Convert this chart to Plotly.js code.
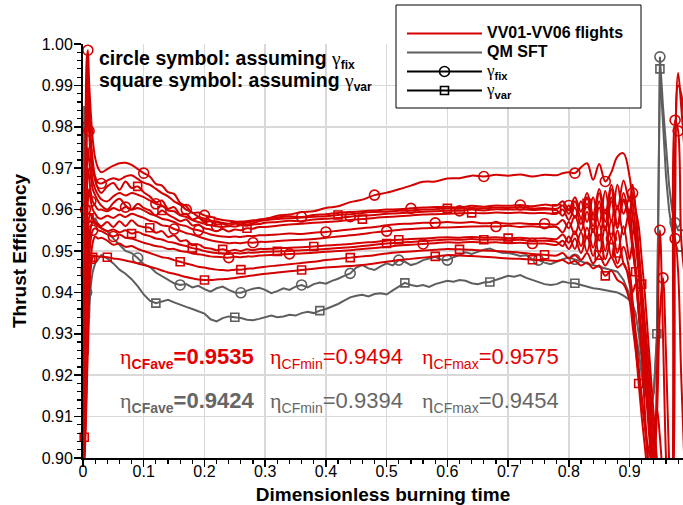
<!DOCTYPE html>
<html><head><meta charset="utf-8">
<script src="https://cdn.plot.ly/plotly-3.0.1.min.js"></script>
<style>html,body{margin:0;padding:0;background:#fff}</style>
</head><body><div id="chart" style="width:683px;height:505px"></div>
<script>
// ---------- x grids ----------
const xRed = [0,0.002,0.004,0.006,0.008,0.010,0.013,0.016,0.020,0.025,
0.03,0.04,0.05,0.06,0.07,0.08,0.09,0.10,0.11,0.12,0.13,0.14,0.15,0.16,0.17,0.18,0.19,0.20,0.21,0.22,0.23,0.24,0.25,0.26,0.27,0.28,0.29,0.30,
0.32,0.34,0.36,0.38,0.40,0.42,0.44,0.46,0.48,0.50,0.52,0.54,0.56,0.58,0.60,0.62,0.64,0.66,0.68,0.70,0.72,0.74,0.76,0.78,
0.79,0.80,0.81,0.82,0.83,0.84,0.85,0.86,0.87,0.88,0.89,
0.90,0.905,0.91,0.915,0.92,0.925,0.93,0.935,0.94,0.945,0.95,0.955,0.96,0.965,0.97,0.975,0.98,0.985,0.99];

const xGrey = [0,0.002,0.004,0.006,0.008,0.010,0.013,0.016,0.020,0.025,
0.03,0.04,0.05,0.06,0.07,0.08,0.09,0.10,0.11,0.12,0.13,0.14,0.15,0.16,0.17,0.18,0.19,0.20,0.21,0.22,
0.23,0.24,0.25,0.26,0.27,0.28,0.29,0.30,0.31,0.32,0.33,0.34,0.35,0.36,0.37,0.38,0.39,0.40,0.41,0.42,
0.43,0.44,0.45,0.46,0.47,0.48,0.49,0.50,0.51,0.52,0.53,0.54,0.55,0.56,0.57,0.58,0.59,0.60,0.61,0.62,
0.63,0.64,0.65,0.66,0.67,0.68,0.69,0.70,0.71,0.72,0.73,0.74,0.75,0.76,0.77,0.78,0.79,0.80,0.81,0.82,
0.83,0.84,0.85,0.86,0.87,0.88,0.89,0.90,
0.905,0.91,0.915,0.92,0.925,0.93,0.935,0.94,0.945,0.95,0.955,0.96,0.965,0.97,0.975,0.98,0.985,0.99];

// ---------- VV01-VV06 flights (red) ----------
const r1 = [0.905,0.935,0.975,0.996,0.9985,0.991,0.983,0.977,0.9725,0.9700,
0.9690,0.9698,0.9706,0.9712,0.9713,0.9708,0.9698,0.9688,0.9680,0.9662,0.9658,0.9642,0.9638,0.9616,0.9608,0.9592,0.9593,0.9586,0.9583,0.9578,0.9575,0.9573,0.9571,0.9571,0.9572,0.9574,0.9575,0.9577,
0.9585,0.9588,0.9594,0.9596,0.9604,0.9608,0.9618,0.9624,0.9635,0.9641,0.9649,0.9658,0.9667,0.9668,0.9675,0.9676,0.9682,0.9680,0.9684,0.9682,0.9685,0.9680,0.9684,0.9683,
0.9688,0.9690,0.9688,0.9702,0.9712,0.9672,0.9710,0.9668,0.9690,0.9728,0.9736,
0.968,0.962,0.955,0.945,0.935,0.925,0.915,0.905,0.895,0.885,0.880,0.880,0.880,0.880,0.890,0.975,0.993,0.985,0.975];
const r2 = [0.900,0.925,0.960,0.988,0.995,0.985,0.977,0.972,0.968,0.9665,
0.9663,0.9670,0.9676,0.9672,0.9680,0.9683,0.9674,0.9665,0.9660,0.9650,0.9640,0.9632,0.9620,0.9612,0.9600,0.9593,0.9583,0.9578,0.9574,0.9570,0.9568,0.9566,0.9570,0.9568,0.9571,0.9572,0.9576,0.9578,
0.9581,0.9584,0.9582,0.9587,0.9589,0.9592,0.9594,0.9596,0.9598,0.9600,0.9601,0.9603,0.9605,0.9606,0.9607,0.9605,0.9609,0.9607,0.9610,0.9609,0.9611,0.9608,0.9612,0.9610,
0.9620,0.9600,0.9630,0.9595,0.9640,0.9590,0.9650,0.9590,0.9660,0.9600,0.9670,
0.962,0.966,0.960,0.950,0.940,0.930,0.918,0.905,0.895,0.920,0.955,0.930,0.900,0.885,0.885,0.885,0.885,0.885,0.885];
const r3 = [0.895,0.920,0.955,0.980,0.989,0.982,0.975,0.970,0.967,0.965,
0.9640,0.9656,0.9664,0.9648,0.9668,0.9652,0.9656,0.9642,0.9632,0.9618,0.9622,0.9602,0.9606,0.9588,0.9590,0.9576,0.9580,0.9570,0.9572,0.9564,0.9566,0.9561,0.9566,0.9564,0.9569,0.9567,0.9572,0.9574,
0.9577,0.9579,0.9581,0.9583,0.9584,0.9587,0.9589,0.9592,0.9594,0.9595,0.9597,0.9598,0.9600,0.9601,0.9603,0.9602,0.9604,0.9603,0.9605,0.9604,0.9606,0.9603,0.9604,0.9602,
0.9610,0.9590,0.9620,0.9580,0.9630,0.9575,0.9640,0.9570,0.9650,0.9565,0.9620,
0.956,0.950,0.945,0.935,0.925,0.912,0.900,0.890,0.885,0.885,0.885,0.885,0.885,0.885,0.885,0.885,0.885,0.885,0.885];
const r4 = [0.905,0.930,0.960,0.978,0.986,0.979,0.972,0.967,0.965,0.9635,
0.9625,0.9620,0.9632,0.9640,0.9634,0.9640,0.9636,0.9630,0.9622,0.9614,0.9610,0.9598,0.9596,0.9586,0.9582,0.9575,0.9570,0.9566,0.9562,0.9560,0.9558,0.9560,0.9559,0.9562,0.9561,0.9564,0.9565,0.9568,
0.9570,0.9573,0.9572,0.9576,0.9578,0.9580,0.9583,0.9585,0.9587,0.9590,0.9591,0.9593,0.9595,0.9596,0.9598,0.9597,0.9600,0.9598,0.9601,0.9600,0.9601,0.9599,0.9600,0.9598,
0.9585,0.9610,0.9580,0.9620,0.9570,0.9630,0.9565,0.9645,0.9570,0.9660,0.9590,
0.963,0.958,0.952,0.945,0.938,0.930,0.920,0.910,0.900,0.890,0.885,0.885,0.885,0.885,0.890,0.9816,0.979,0.953,0.945];
const r5 = [0.900,0.915,0.945,0.968,0.975,0.972,0.968,0.965,0.9635,0.962,
0.9610,0.9600,0.9616,0.9626,0.9610,0.9600,0.9614,0.9604,0.9598,0.9586,0.9598,0.9588,0.9580,0.9572,0.9576,0.9562,0.9564,0.9555,0.9552,0.9548,0.9553,0.9547,0.9552,0.9550,0.9555,0.9554,0.9558,0.9558,
0.9561,0.9564,0.9566,0.9568,0.9570,0.9572,0.9575,0.9577,0.9580,0.9582,0.9584,0.9586,0.9588,0.9589,0.9590,0.9591,0.9592,0.9591,0.9593,0.9592,0.9593,0.9591,0.9592,0.9590,
0.9600,0.9575,0.9605,0.9565,0.9615,0.9560,0.9620,0.9550,0.9630,0.9555,0.9625,
0.958,0.954,0.956,0.950,0.942,0.933,0.925,0.915,0.905,0.895,0.888,0.885,0.885,0.885,0.885,0.885,0.885,0.885,0.885];
const r6 = [0.895,0.910,0.935,0.958,0.970,0.968,0.964,0.962,0.961,0.960,
0.9600,0.9596,0.9604,0.9598,0.9606,0.9600,0.9604,0.9598,0.9590,0.9585,0.9578,0.9575,0.9570,0.9563,0.9560,0.9553,0.9550,0.9545,0.9540,0.9537,0.9535,0.9534,0.9535,0.9534,0.9536,0.9536,0.9538,0.9538,
0.9540,0.9542,0.9541,0.9544,0.9546,0.9549,0.9552,0.9555,0.9558,0.9562,0.9565,0.9566,0.9568,0.9568,0.9570,0.9568,0.9570,0.9567,0.9568,0.9566,0.9567,0.9565,0.9566,0.9564,
0.9575,0.9555,0.9585,0.9548,0.9595,0.9545,0.9605,0.9550,0.9620,0.9555,0.9640,
0.959,0.964,0.960,0.956,0.948,0.940,0.930,0.920,0.910,0.900,0.895,0.890,0.887,0.887,0.890,0.960,0.990,0.988,0.980];
const r7 = [0.900,0.912,0.930,0.950,0.962,0.965,0.962,0.960,0.959,0.958,
0.9578,0.9585,0.9580,0.9588,0.9582,0.9590,0.9585,0.9580,0.9573,0.9570,0.9562,0.9560,0.9553,0.9549,0.9543,0.9540,0.9535,0.9530,0.9526,0.9523,0.9521,0.9519,0.9520,0.9519,0.9521,0.9520,0.9522,0.9522,
0.9524,0.9526,0.9527,0.9529,0.9532,0.9535,0.9538,0.9541,0.9545,0.9548,0.9551,0.9553,0.9555,0.9556,0.9557,0.9558,0.9559,0.9560,0.9559,0.9561,0.9558,0.9560,0.9557,0.9558,
0.9545,0.9570,0.9540,0.9580,0.9530,0.9590,0.9525,0.9600,0.9530,0.9610,0.9540,
0.960,0.952,0.944,0.935,0.928,0.920,0.912,0.905,0.900,0.910,0.935,0.9435,0.925,0.900,0.885,0.885,0.885,0.885,0.885];
const r8 = [0.890,0.902,0.920,0.940,0.953,0.958,0.959,0.958,0.957,0.9565,
0.9560,0.9570,0.9558,0.9572,0.9560,0.9574,0.9562,0.9558,0.9556,0.9544,0.9548,0.9534,0.9538,0.9524,0.9526,0.9514,0.9516,0.9508,0.9506,0.9502,0.9504,0.9500,0.9503,0.9500,0.9504,0.9502,0.9505,0.9505,
0.9506,0.9508,0.9509,0.9511,0.9513,0.9515,0.9517,0.9520,0.9522,0.9525,0.9527,0.9529,0.9530,0.9532,0.9533,0.9532,0.9534,0.9532,0.9533,0.9531,0.9532,0.9530,0.9531,0.9529,
0.9540,0.9520,0.9548,0.9512,0.9556,0.9508,0.9565,0.9500,0.9575,0.9495,0.9560,
0.948,0.952,0.946,0.938,0.930,0.921,0.913,0.905,0.897,0.890,0.886,0.885,0.885,0.885,0.885,0.885,0.885,0.885,0.885];
const r9 = [0.900,0.905,0.915,0.932,0.946,0.953,0.956,0.957,0.9565,0.956,
0.9555,0.9548,0.9552,0.9545,0.9550,0.9542,0.9546,0.9540,0.9536,0.9530,0.9528,0.9522,0.9520,0.9515,0.9512,0.9507,0.9504,0.9500,0.9497,0.9495,0.9494,0.9493,0.9495,0.9494,0.9496,0.9496,0.9497,0.9498,
0.9499,0.9500,0.9502,0.9503,0.9505,0.9507,0.9509,0.9512,0.9515,0.9518,0.9520,0.9522,0.9524,0.9526,0.9528,0.9527,0.9529,0.9527,0.9528,0.9526,0.9527,0.9524,0.9525,0.9522,
0.9512,0.9535,0.9505,0.9545,0.9498,0.9555,0.9490,0.9560,0.9485,0.9550,0.9470,
0.944,0.938,0.930,0.922,0.915,0.908,0.900,0.893,0.888,0.886,0.885,0.885,0.885,0.885,0.885,0.885,0.885,0.885,0.885];
const r10 = [0.895,0.900,0.910,0.925,0.940,0.948,0.953,0.955,0.9555,0.955,
0.9548,0.9540,0.9535,0.9540,0.9532,0.9530,0.9525,0.9520,0.9516,0.9512,0.9510,0.9505,0.9505,0.9500,0.9498,0.9494,0.9492,0.9490,0.9487,0.9486,0.9485,0.9484,0.9486,0.9485,0.9487,0.9487,0.9489,0.9490,
0.9491,0.9493,0.9494,0.9496,0.9498,0.9500,0.9502,0.9505,0.9507,0.9510,0.9513,0.9515,0.9517,0.9519,0.9521,0.9520,0.9522,0.9520,0.9521,0.9519,0.9520,0.9518,0.9518,0.9515,
0.9525,0.9505,0.9530,0.9495,0.9535,0.9488,0.9540,0.9480,0.9530,0.9470,0.9510,
0.945,0.940,0.942,0.936,0.928,0.920,0.910,0.900,0.892,0.888,0.886,0.886,0.886,0.886,0.890,0.953,0.945,0.920,0.900];
const r11 = [0.890,0.898,0.905,0.915,0.928,0.940,0.948,0.952,0.9535,0.953,
0.9532,0.9525,0.9515,0.9518,0.9510,0.9512,0.9505,0.9500,0.9495,0.9490,0.9485,0.9483,0.9478,0.9474,0.9470,0.9466,0.9462,0.9460,0.9457,0.9455,0.9454,0.9453,0.9455,0.9455,0.9457,0.9458,0.9460,0.9462,
0.9465,0.9468,0.9471,0.9474,0.9478,0.9481,0.9484,0.9487,0.9490,0.9494,0.9497,0.9499,0.9501,0.9503,0.9505,0.9504,0.9503,0.9501,0.9500,0.9498,0.9496,0.9493,0.9491,0.9489,
0.9495,0.9482,0.9490,0.9478,0.9495,0.9470,0.9490,0.9465,0.9485,0.9460,0.9470,
0.942,0.935,0.927,0.918,0.910,0.903,0.896,0.890,0.887,0.886,0.885,0.885,0.885,0.885,0.885,0.885,0.885,0.885,0.885];
const r12 = [0.895,0.900,0.908,0.918,0.930,0.940,0.946,0.9485,0.9488,0.9487,
0.9486,0.9485,0.9482,0.9480,0.9477,0.9474,0.9470,0.9466,0.9462,0.9458,0.9453,0.9448,0.9445,0.9441,0.9437,0.9434,0.9431,0.9430,0.9430,0.9431,0.9432,0.9433,0.9435,0.9437,0.9439,0.9441,0.9443,0.9445,
0.9448,0.9451,0.9454,0.9457,0.9460,0.9462,0.9464,0.9466,0.9470,0.9474,0.9478,0.9481,0.9484,0.9487,0.9490,0.9489,0.9488,0.9486,0.9484,0.9482,0.9481,0.9479,0.9478,0.9476,
0.9478,0.9470,0.9476,0.9465,0.9472,0.9458,0.9465,0.9440,0.9452,0.9430,0.9420,
0.938,0.932,0.926,0.920,0.914,0.908,0.903,0.900,0.905,0.912,0.905,0.895,0.888,0.885,0.885,0.885,0.885,0.885,0.885];

// ---------- QM SFT (grey) ----------
const g1 = [0.905,0.985,0.960,0.940,0.945,0.952,0.956,0.957,0.958,0.9565,
0.9555,0.9548,0.9530,0.9515,0.9500,0.9495,0.9483,0.9468,0.9462,0.9448,
0.9440,0.9432,0.9422,0.9418,0.9420,0.9412,0.9416,0.9408,0.9402,0.9410,
0.9414,0.9406,0.9400,0.9399,0.9404,0.9409,0.9411,0.9406,0.9398,0.9403,
0.9410,0.9406,0.9414,0.9418,0.9412,0.9420,0.9424,0.9421,0.9428,0.9433,
0.9440,0.9446,0.9460,0.9466,0.9458,0.9454,0.9463,0.9470,0.9465,0.9478,
0.9474,0.9466,0.9470,0.9478,0.9482,0.9486,0.9479,0.9478,0.9485,0.9490,
0.9497,0.9493,0.9498,0.9503,0.9506,0.9500,0.9496,0.9495,0.9492,0.9488,
0.9490,0.9480,0.9478,0.9472,0.9468,0.9474,0.9480,0.9484,0.9480,0.9475,
0.9470,0.9466,0.9462,0.9458,0.9454,0.9450,0.9430,0.9395,
0.936,0.930,0.926,0.920,0.916,0.914,0.913,0.916,0.928,0.9969,0.985,0.975,0.966,0.960,0.9568,0.955,0.955,0.955];
const g2 = [0.900,0.908,0.935,0.930,0.925,0.935,0.942,0.945,0.947,0.948,
0.9490,0.9482,0.9470,0.9455,0.9445,0.9432,0.9415,0.9395,0.9380,0.9374,
0.9378,0.9382,0.9376,0.9370,0.9365,0.9360,0.9355,0.9349,0.9335,0.9330,
0.9338,0.9342,0.9340,0.9338,0.9334,0.9333,0.9336,0.9340,0.9344,0.9340,
0.9342,0.9346,0.9344,0.9350,0.9353,0.9350,0.9356,0.9360,0.9366,0.9372,
0.9380,0.9388,0.9392,0.9394,0.9390,0.9396,0.9398,0.9395,0.9405,0.9415,
0.9423,0.9418,0.9415,0.9418,0.9413,0.9420,0.9424,0.9428,0.9426,0.9430,
0.9428,0.9422,0.9420,0.9424,0.9425,0.9430,0.9436,0.9440,0.9438,0.9442,
0.9435,0.9430,0.9424,0.9420,0.9418,0.9420,0.9426,0.9423,0.9422,0.9418,
0.9414,0.9410,0.9408,0.9405,0.9403,0.9400,0.9392,0.9382,
0.937,0.935,0.930,0.924,0.918,0.914,0.912,0.916,0.930,0.994,0.980,0.968,0.960,0.955,0.952,0.950,0.950,0.950];

// ---------- symbol positions (x where a symbol sits on each curve) ----------
const r1Marks = [0.008,0.10,0.20,0.48,0.66,0.81,0.86];
const r2Marks = [0.004,0.03,0.17,0.36,0.54,0.72,0.95];
const r3Marks = [0.006,0.09,0.21,0.42,0.60,0.78,0.91];
const r4Marks = [0.010,0.12,0.22,0.44,0.62,0.80,0.975,0.98];
const r5Marks = [0.004,0.13,0.27,0.46,0.64,0.83,0.92];
const r6Marks = [0.006,0.07,0.19,0.40,0.58,0.76,0.905];
const r7Marks = [0.013,0.15,0.28,0.50,0.68,0.87,0.955];
const r8Marks = [0.010,0.11,0.23,0.38,0.52,0.70,0.88];
const r9Marks = [0.002,0.08,0.18,0.32,0.50,0.66,0.85];
const r10Marks = [0.016,0.05,0.24,0.34,0.56,0.74,0.975];
const r11Marks = [0.013,0.16,0.26,0.44,0.62,0.76,0.915];
const r12Marks = [0.016,0.04,0.20,0.36,0.58,0.74,0.86];
const g1Marks = [0.006,0.09,0.16,0.26,0.36,0.44,0.52,0.60,0.75,0.81,0.95,0.975];
const g2Marks = [0.004,0.12,0.25,0.39,0.53,0.67,0.81,0.945,0.95];

const legendNames = ['VV01-VV06 flights','QM SFT','fix','var'];
const statsRed = ['0.9535','0.9494','0.9575'];
const statsGrey = ['0.9424','0.9394','0.9454'];
const statLabels = ['CFave','CFmin','CFmax'];

// ---------- styles ----------
const RED = '#d40000', GREY = '#5e5e5e', RED_T = '#e30000', GREY_T = '#666666';

function lineTrace(x, y, color, shape) {
  return {x, y, type:'scatter', mode:'lines', line:{color, width:2, shape, smoothing:1},
          showlegend:false, hoverinfo:'skip'};
}
function markTrace(x, y, marks, color, sym) {
  const mx = [], my = [];
  marks.forEach(m => {
    let b = 0;
    x.forEach((v,i) => { if (Math.abs(v-m) < Math.abs(x[b]-m)) b = i; });
    mx.push(x[b]); my.push(y[b]);
  });
  return {x:mx, y:my, type:'scatter', mode:'markers', cliponaxis:false,
          marker:{symbol: sym==='c' ? 'circle-open' : 'square-open', size: sym==='c' ? 10 : 8,
                  color, line:{color, width:1.6}}, showlegend:false, hoverinfo:'skip'};
}

const traces = [];
traces.push(lineTrace(xGrey, g1, GREY, 'linear'));
traces.push(lineTrace(xGrey, g2, GREY, 'linear'));
traces.push(markTrace(xGrey, g1, g1Marks, GREY, 'c'));
traces.push(markTrace(xGrey, g2, g2Marks, GREY, 's'));
const reds = [[r1,r1Marks,'c'],[r2,r2Marks,'c'],[r3,r3Marks,'s'],[r4,r4Marks,'c'],[r5,r5Marks,'s'],[r6,r6Marks,'c'],
              [r7,r7Marks,'c'],[r8,r8Marks,'s'],[r9,r9Marks,'s'],[r10,r10Marks,'c'],[r11,r11Marks,'s'],[r12,r12Marks,'s']];
reds.forEach(r => traces.push(lineTrace(xRed, r[0], RED, 'spline')));
reds.forEach(r => traces.push(markTrace(xRed, r[0], r[1], RED, r[2])));

// legend entries
const big = s => '<span style="font-size:16px"><b>' + s + '</b></span>';
const gam = s => '<span style="font-family:Liberation Serif;font-size:17px">γ</span><span style="font-size:16px"><sub><b>' + s + '</b></sub></span>';
traces.push({x:[null], y:[null], type:'scatter', mode:'lines', name:big(legendNames[0]), line:{color:RED, width:2}, legendrank:1});
traces.push({x:[null], y:[null], type:'scatter', mode:'lines', name:big(legendNames[1]), line:{color:GREY, width:2}, legendrank:2});
traces.push({x:[null], y:[null], type:'scatter', mode:'lines+markers', name:gam(legendNames[2]), line:{color:'#000', width:2},
             marker:{symbol:'circle-open', size:10, color:'#000', line:{width:1.6}}, legendrank:3});
traces.push({x:[null], y:[null], type:'scatter', mode:'lines+markers', name:gam(legendNames[3]), line:{color:'#000', width:2},
             marker:{symbol:'square-open', size:8, color:'#000', line:{width:1.6}}, legendrank:4});

// pixel helpers for paper placement of text boxes
const L = 83, T = 44, W = 600, H = 414;
const px = v => (v - L) / W;
const py = v => (T + H - v) / H;

const ann = [];
ann.push({xref:'paper', yref:'paper', x:px(97), y:py(60), xanchor:'left', yanchor:'middle', showarrow:false,
  text:'<b>circle symbol: assuming </b><span style="font-family:Liberation Serif">γ</span><sub><span style="font-size:12px"><b>fix</b></span></sub>', font:{size:19.5, color:'#000'}});
ann.push({xref:'paper', yref:'paper', x:px(97), y:py(82), xanchor:'left', yanchor:'middle', showarrow:false,
  text:'<b>square symbol: assuming </b><span style="font-family:Liberation Serif">γ</span><sub><span style="font-size:12px"><b>var</b></span></sub>', font:{size:19.5, color:'#000'}});
const cellX = [118, 268, 420];
[[statsRed, RED_T, 358], [statsGrey, GREY_T, 402]].forEach(row => {
  row[0].forEach((v, i) => {
    const bold = i === 0;
    const sub = '<span style="font-size:14px">' + (bold ? '<b>' + statLabels[i] + '</b>' : statLabels[i]) + '</span>';
    const val = bold ? '<b>=' + v + '</b>' : '=' + v;
    ann.push({xref:'paper', yref:'paper', x:px(cellX[i]), y:py(row[2]), xanchor:'left', yanchor:'middle', showarrow:false,
      text:'<span style="font-family:Liberation Serif">η</span><sub>' + sub + '</sub>' + val, font:{size:22, color:row[1]}});
  });
});

const axCommon = {showgrid:true, gridcolor:'#d9d9d9', gridwidth:1.5, showline:true, linecolor:'#000', linewidth:2,
  ticks:'outside', ticklen:7, tickwidth:1.5, tickcolor:'#000', tickfont:{size:16, color:'#000'}, zeroline:false,
  automargin:false, fixedrange:true};

const layout = {
  width:683, height:505,
  margin:{l:L, r:0, t:T, b:47, pad:0},
  paper_bgcolor:'#fff', plot_bgcolor:'#fff',
  font:{family:'Liberation Sans, Arial, sans-serif', color:'#000'},
  showlegend:true,
  xaxis: Object.assign({}, axCommon, {range:[0,0.988], tick0:0, dtick:0.1, ticklabelstandoff:-9,
    minor:{ticks:'outside', dtick:0.02, ticklen:4, tickwidth:1.2, tickcolor:'#000', showgrid:false},
    title:{text:'<b>Dimensionless burning time</b>', font:{size:19, color:'#000'}, standoff:13}}),
  yaxis: Object.assign({}, axCommon, {range:[0.9,1.0], tick0:0.9, dtick:0.01, tickformat:'.2f', ticklabelstandoff:-2,
    minor:{ticks:'outside', dtick:0.002, ticklen:4, tickwidth:1.2, tickcolor:'#000', showgrid:false},
    title:{text:'<b>Thrust Efficiency</b>', font:{size:19, color:'#000'}, standoff:10}}),
  legend:{x:px(402), xanchor:'left', y:py(19), yanchor:'top', bgcolor:'rgba(0,0,0,0)', borderwidth:0,
    font:{size:12, color:'#000', family:'Liberation Sans, Arial, sans-serif'}, itemwidth:75, tracegroupgap:0},
  shapes:[{type:'rect', xref:'paper', yref:'paper', x0:px(396), x1:px(641), y0:py(108), y1:py(5),
    fillcolor:'#fff', line:{color:'#000', width:1}, layer:'above'}],
  annotations: ann
};

Plotly.newPlot('chart', traces, layout, {staticPlot:true, displayModeBar:false});
</script>
</body></html>
